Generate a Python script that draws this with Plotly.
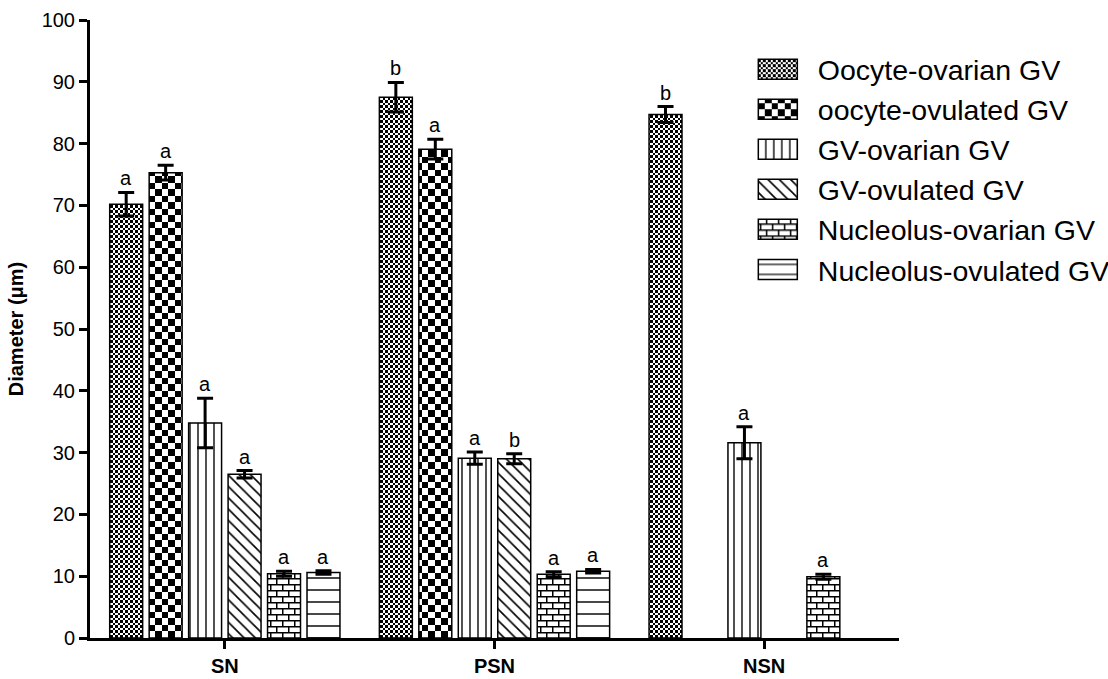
import plotly.graph_objects as go

# ---------------- data ----------------
categories = ["SN", "PSN", "NSN"]

series_names = [
    "Oocyte-ovarian GV",
    "oocyte-ovulated GV",
    "GV-ovarian GV",
    "GV-ovulated GV",
    "Nucleolus-ovarian GV",
    "Nucleolus-ovulated GV",
]

oocyte_ovarian = [70.2, 87.5, 84.7]
oocyte_ovarian_err = [1.9, 2.4, 1.3]
oocyte_ovulated = [75.3, 79.1, None]
oocyte_ovulated_err = [1.2, 1.6, None]
gv_ovarian = [34.8, 29.1, 31.6]
gv_ovarian_err = [4.0, 1.0, 2.6]
gv_ovulated = [26.5, 29.0, None]
gv_ovulated_err = [0.6, 0.8, None]
nucleolus_ovarian = [10.4, 10.3, 9.9]
nucleolus_ovarian_err = [0.4, 0.4, 0.4]
nucleolus_ovulated = [10.6, 10.8, None]
nucleolus_ovulated_err = [0.3, 0.3, None]

letters_oocyte_ovarian = ["a", "b", "b"]
letters_oocyte_ovulated = ["a", "a", None]
letters_gv_ovarian = ["a", "a", "a"]
letters_gv_ovulated = ["a", "b", None]
letters_nucleolus_ovarian = ["a", "a", "a"]
letters_nucleolus_ovulated = ["a", "a", None]

values = [oocyte_ovarian, oocyte_ovulated, gv_ovarian, gv_ovulated,
          nucleolus_ovarian, nucleolus_ovulated]
errors = [oocyte_ovarian_err, oocyte_ovulated_err, gv_ovarian_err,
          gv_ovulated_err, nucleolus_ovarian_err, nucleolus_ovulated_err]
letters = [letters_oocyte_ovarian, letters_oocyte_ovulated, letters_gv_ovarian,
           letters_gv_ovulated, letters_nucleolus_ovarian, letters_nucleolus_ovulated]

# ---------------- styles ----------------
uids = ["tOocOv", "tOocOl", "tGvOv", "tGvOl", "tNucOv", "tNucOl"]
patterns = [
    dict(shape=".", size=5, solidity=0.5),      # replaced by fine checkerboard
    dict(shape=".", size=13, solidity=0.5),     # replaced by coarse checkerboard
    dict(shape="|", size=8, solidity=0.17),
    dict(shape="\\", size=8, solidity=0.2),
    dict(shape="+", size=11, solidity=0.2),     # replaced by brick
    dict(shape="-", size=12, solidity=0.12),
]

BARGAP = 0.122
BARGROUPGAP = 0.165
n_series = len(series_names)
slot = (1 - BARGAP) / n_series

fig = go.Figure()
for k in range(n_series):
    fig.add_trace(go.Bar(
        name=series_names[k],
        uid=uids[k],
        x=categories,
        y=values[k],
        error_y=dict(type="data", array=errors[k], visible=True,
                     color="black", thickness=3, width=8),
        marker=dict(color="white",
                    line=dict(color="black", width=1.5),
                    pattern=dict(fgcolor="black", bgcolor="white",
                                 fillmode="replace", **patterns[k])),
    ))

# significance letters above the error bars
annotations = []
for k in range(n_series):
    for ci in range(len(categories)):
        lab = letters[k][ci]
        v = values[k][ci]
        if lab is None or v is None:
            continue
        e = errors[k][ci] or 0
        annotations.append(dict(
            x=ci + (k - (n_series - 1) / 2) * slot,
            y=v + e,
            xref="x", yref="y",
            text=lab, showarrow=False,
            yanchor="bottom", yshift=1,
            font=dict(family="Liberation Sans, Arial, sans-serif", size=20, color="black"),
        ))

fig.update_layout(
    width=1108, height=679,
    margin=dict(l=90, r=209, t=20, b=41, autoexpand=False),
    paper_bgcolor="white", plot_bgcolor="white",
    barmode="group", bargap=BARGAP, bargroupgap=BARGROUPGAP,
    font=dict(family="Liberation Sans, Arial, sans-serif", color="black"),
    showlegend=True,
    legend=dict(
        xref="container", yref="container",
        x=0.702, y=0.935, xanchor="left", yanchor="top",
        bgcolor="rgba(0,0,0,0)",
        font=dict(family="Liberation Sans, Arial, sans-serif", size=28.5, color="black"),
        tracegroupgap=0,
    ),
    annotations=annotations,
)

fig.update_xaxes(
    type="category",
    range=[-0.5, 2.5],
    showline=True, linecolor="black", linewidth=3,
    ticks="outside", ticklen=8, tickwidth=3, tickcolor="black",
    tickfont=dict(family="Liberation Sans Narrow, Arial Narrow, Liberation Sans, Arial",
                  size=20, color="black", weight="bold"),
    showgrid=False, zeroline=False,
)
fig.update_yaxes(
    range=[0, 100],
    tickmode="array", tickvals=list(range(0, 101, 10)),
    showline=True, linecolor="black", linewidth=3,
    ticks="outside", ticklen=8, tickwidth=3, tickcolor="black",
    tickfont=dict(family="Liberation Sans, Arial, sans-serif", size=20, color="black"),
    title=dict(text="Diameter (\u03bcm)", standoff=13,
               font=dict(family="Liberation Sans, Arial, sans-serif", size=20,
                         color="black", weight="bold")),
    showgrid=False, zeroline=False,
)

post_script = """
var gd = document.getElementById('{plot_id}');
var NS = 'http://www.w3.org/2000/svg';
function clearPat(p){ while(p.firstChild){ p.removeChild(p.firstChild); } p.removeAttribute('patternTransform'); }
function rect(p,x,y,w,h,c){ var r=document.createElementNS(NS,'rect'); r.setAttribute('x',x); r.setAttribute('y',y); r.setAttribute('width',w); r.setAttribute('height',h); r.setAttribute('fill',c); r.setAttribute('shape-rendering','crispEdges'); p.appendChild(r); }
function path(p,d,w){ var e=document.createElementNS(NS,'path'); e.setAttribute('d',d); e.setAttribute('stroke','black'); e.setAttribute('stroke-width',w); e.setAttribute('fill','none'); p.appendChild(e); }
function checker(c){ return function(p){ clearPat(p); p.setAttribute('width',2*c); p.setAttribute('height',2*c); rect(p,0,0,2*c,2*c,'white'); rect(p,0,0,c,c,'black'); rect(p,c,c,c,c,'black'); }; }
function brick(p){ clearPat(p); p.setAttribute('width',12); p.setAttribute('height',12); rect(p,0,0,12,12,'white'); path(p,'M0,0.75H12M0,6.75H12M0.75,0V6.75M6.75,6.75V12',1.5); }
var map = {'tOocOv': checker(2.5), 'tOocOl': checker(6.5), 'tNucOv': brick};
function restyleAll(){
  gd.querySelectorAll('pattern').forEach(function(p){
    var done = false;
    Object.keys(map).forEach(function(k){ if(!done && p.id.indexOf(k) !== -1){ map[k](p); done = true; } });
    if(!done){ p.removeAttribute('patternTransform'); }
  });
  gd.querySelectorAll('.legend .legendpoints path').forEach(function(e){
    e.setAttribute('d','M19.5,10H-19.5V-10H19.5Z');
    e.setAttribute('transform','translate(0,0)');
  });
  gd.querySelectorAll('.legend .scrollbox').forEach(function(e){ e.removeAttribute('clip-path'); });
  gd.querySelectorAll('.legend').forEach(function(e){ e.removeAttribute('clip-path'); });
}
restyleAll();
if(gd.on){ gd.on('plotly_afterplot', restyleAll); }
setTimeout(restyleAll, 50);
setTimeout(restyleAll, 300);
"""

fig.write_html("out.html", post_script=post_script)
